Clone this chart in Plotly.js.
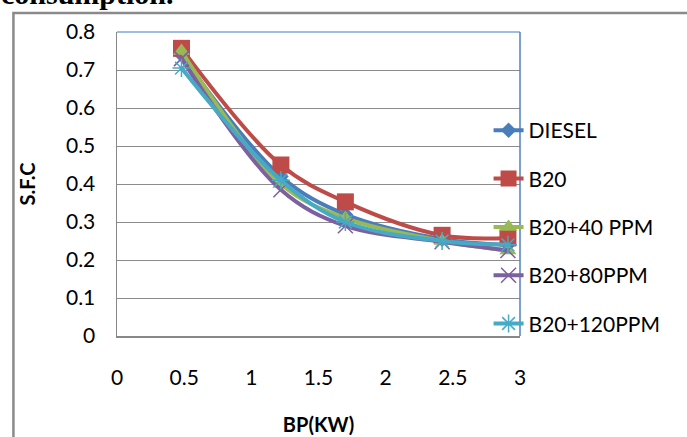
<!DOCTYPE html>
<html><head><meta charset="utf-8">
<script src="https://cdn.plot.ly/plotly-3.0.1.min.js"></script>
<style>html,body{margin:0;padding:0;background:#fff;}#c{width:687px;height:437px;}</style>
</head><body><div id="c"></div>
<script>
const bp = [0.48, 1.22, 1.70, 2.42, 2.91];
const seriesNames = ["DIESEL", "B20", "B20+40 PPM", "B20+80PPM", "B20+120PPM"];
const diesel = [0.74, 0.42, 0.32, 0.255, 0.24];
const b20 = [0.757, 0.45, 0.353, 0.265, 0.258];
const b20_40 = [0.75, 0.40, 0.31, 0.25, 0.225];
const b20_80 = [0.73, 0.385, 0.29, 0.248, 0.225];
const b20_120 = [0.705, 0.41, 0.30, 0.25, 0.24];
const values = [diesel, b20, b20_40, b20_80, b20_120];
const colors = ["#4a7ebb", "#be4b48", "#98b954", "#7d60a0", "#46aac5"];
const symbols = ["diamond", "square", "triangle-up", "x-thin-open", "asterisk-open"];
const sizes = [12, 17, 15, 15, 15];

const traces = values.map((v, i) => ({
  x: bp, y: v, name: seriesNames[i], type: "scatter", mode: "lines+markers",
  legendgroup: "g" + i,
  line: {color: colors[i], width: 4, shape: "spline", smoothing: 1},
  marker: {symbol: symbols[i], size: sizes[i], color: colors[i],
           line: {color: colors[i], width: (i >= 3 ? 1.5 : 0)}}
}));

const layout = {
  width: 687, height: 437,
  margin: {l: 117, r: 167, t: 32, b: 101},
  paper_bgcolor: "#fff", plot_bgcolor: "#fff",
  font: {family: "Lato, 'Open Sans', sans-serif", color: "#000", size: 21},
  showlegend: true,
  legend: {x: 0.922, y: 0.743, xanchor: "left", yanchor: "top", bgcolor: "rgba(0,0,0,0)",
           tracegroupgap: 18, font: {size: 21}},
  xaxis: {range: [0, 3], dtick: 0.5, tick0: 0, showgrid: false, zeroline: false,
          showline: true, linecolor: "#888", linewidth: 1.5,
          ticks: "outside", ticklen: 22, tickcolor: "rgba(0,0,0,0)",
          tickfont: {size: 21}, automargin: false,
          title: {text: "<b>BP(KW)</b>", font: {size: 20}, standoff: 30}},
  yaxis: {range: [0, 0.8], dtick: 0.1, tick0: 0, showgrid: true, gridcolor: "#8c8c8c", gridwidth: 1,
          zeroline: false, showline: true, linecolor: "#888", linewidth: 1.5,
          ticks: "outside", ticklen: 16, tickcolor: "rgba(0,0,0,0)",
          tickfont: {size: 21}, automargin: false,
          title: {text: "<b>S.F.C</b>", font: {size: 20}, standoff: 25}},
  shapes: [
    {type: "line", xref: "paper", yref: "paper", x0: 0, x1: 1, y0: 1, y1: 1, line: {color: "#7fa7d8", width: 1.5}},
    {type: "line", xref: "paper", yref: "paper", x0: 1, x1: 1, y0: 0, y1: 1, line: {color: "#4f81bd", width: 1.5}},
    {type: "rect", xref: "paper", yref: "paper", x0: -0.257, x1: 1.5, y0: -0.4, y1: 1.0625,
     line: {color: "#8a8a8a", width: 2.5}, fillcolor: "rgba(0,0,0,0)"}
  ],
  annotations: [
    {xref: "paper", yref: "paper", x: -0.293, y: 1.066, xanchor: "left", yanchor: "bottom",
     text: "<b>consumption.</b>", showarrow: false,
     font: {family: "'Liberation Serif', serif", size: 30, color: "#000"}}
  ]
};
Plotly.newPlot("c", traces, layout, {displayModeBar: false, staticPlot: true});
</script></body></html>
